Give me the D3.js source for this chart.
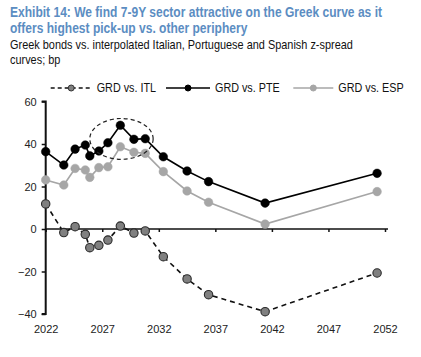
<!DOCTYPE html>
<html><head><meta charset="utf-8">
<script src="https://cdn.jsdelivr.net/npm/d3@7"></script>
<style>
html,body{margin:0;padding:0;background:#fff;}
svg{display:block;font-family:Arial,"Liberation Sans",sans-serif;}
</style></head>
<body>
<svg id="chart" width="421" height="357"></svg>
<script>
const years = [2022.0, 2023.6, 2024.6, 2025.5, 2025.9, 2026.7, 2027.5, 2028.6, 2029.8, 2030.8, 2032.4, 2034.5, 2036.4, 2041.4, 2051.3];
const itl = [11.8, -1.7, 1.1, -2.5, -8.8, -7.7, -5.2, 1.4, -1.9, -0.9, -13, -23.5, -30.9, -38.9, -20.7];
const pte = [36.4, 30.1, 37.6, 39.5, 34.4, 36.7, 40.6, 48.8, 42.2, 42.5, 34, 27.3, 22.3, 12.2, 26.2];
const esp = [23.1, 20.7, 28.5, 27.8, 24.3, 28.9, 29.3, 38.7, 36.1, 35.6, 27, 17.9, 12.6, 2.3, 17.6];
const seriesNames = ["GRD vs. ITL", "GRD vs. PTE", "GRD vs. ESP"];
const xTicks = [2022, 2027, 2032, 2037, 2042, 2047, 2052];
const yTicks = [-40, -20, 0, 20, 40, 60];
const titleLines = ["Exhibit 14: We find 7-9Y sector attractive on the Greek curve as it", "offers highest pick-up vs. other periphery"];
const subtitleLines = ["Greek bonds vs. interpolated Italian, Portuguese and Spanish z-spread", "curves; bp"];
const highlight = {x: 2028.7, y: 42.4, rx: 2.8, ry: 9.6};

const svg = d3.select("#chart");
const x = d3.scaleLinear().domain([2022, 2052]).range([45.7, 385]);
const y = d3.scaleLinear().domain([-40, 60]).range([314, 101.5]);

// text placed at (px,py) squeezed horizontally by factor sx
function squeezedText(sel, px, py, sx, str, attrs) {
  const t = sel.append("text").attr("transform", `translate(${px},${py}) scale(${sx},1)`).text(str);
  Object.entries(attrs).forEach(([k, v]) => t.attr(k, v));
  return t;
}

// Titles
const sxT = 0.86;
titleLines.forEach((t, i) => {
  squeezedText(svg, 10, 17 + i * 15.5, sxT, t, {"font-size": 14, "font-weight": "bold", fill: "#5b8dc2"});
});
const sxS = 0.91;
subtitleLines.forEach((t, i) => {
  squeezedText(svg, 10, 49 + i * 15, sxS, t, {"font-size": 12, fill: "#111"});
});

// Legend
const legY = 88;
const leg = svg.append("g");
const legItems = [
  {x1: 50.7, x2: 91.7, tx: 96.7, dash: "4,3", stroke: "#111", fill: "#808080", mstroke: "#333"},
  {x1: 166, x2: 210, tx: 215, dash: null, stroke: "#000", fill: "#000", mstroke: "#000"},
  {x1: 293.3, x2: 333.3, tx: 338.3, dash: null, stroke: "#a6a6a6", fill: "#a6a6a6", mstroke: "#a6a6a6"}
];
legItems.forEach((d, i) => {
  leg.append("line").attr("x1", d.x1).attr("x2", d.x2).attr("y1", legY).attr("y2", legY)
    .attr("stroke", d.stroke).attr("stroke-width", 1.5).attr("stroke-dasharray", d.dash);
  leg.append("circle").attr("cx", (d.x1 + d.x2) / 2).attr("cy", legY).attr("r", 3)
    .attr("fill", d.fill).attr("stroke", d.mstroke).attr("stroke-width", 1);
  squeezedText(leg, d.tx, legY + 4, 0.9, seriesNames[i], {"font-size": 12, fill: "#111"});
});

// Axes
const yAxis = d3.axisLeft(y).tickValues(yTicks).tickSize(4).tickPadding(5).tickFormat(d3.format("d"));
const gy = svg.append("g").attr("transform", `translate(${x(2022)},0)`).call(yAxis);
gy.select(".domain").attr("stroke", "#111").attr("stroke-width", 2).attr("d", `M-4,${y(60)}H0V${y(-40)}H-4`);
gy.selectAll(".tick line").attr("stroke", "#111").attr("stroke-width", 1.5);
gy.selectAll(".tick text").attr("font-size", 11).attr("fill", "#222").attr("font-family", "Arial, Liberation Sans, sans-serif");

const xAxis = d3.axisBottom(x).tickValues(xTicks).tickSize(3).tickFormat(d3.format("d"));
const gx = svg.append("g").attr("transform", `translate(0,${y(0)})`).call(xAxis);
gx.select(".domain").attr("stroke", "#111").attr("stroke-width", 1.5).attr("d", `M${x(2022)},0H${x(2052) + 3}`);
gx.selectAll(".tick line").attr("stroke", "#111").attr("stroke-width", 1.5);
gx.selectAll(".tick text").attr("font-size", 11).attr("fill", "#222")
  .attr("font-family", "Arial, Liberation Sans, sans-serif")
  .attr("transform", `translate(0,${333 - y(0) - 14})`);

// Series
const line = d3.line().x(d => x(d[0])).y(d => y(d[1]));
function drawSeries(vals, opts) {
  const data = years.map((yr, i) => [yr, vals[i]]);
  svg.append("path").datum(data).attr("d", line).attr("fill", "none")
    .attr("stroke", opts.stroke).attr("stroke-width", 1.6).attr("stroke-dasharray", opts.dash);
  svg.append("g").selectAll("circle").data(data).join("circle")
    .attr("cx", d => x(d[0])).attr("cy", d => y(d[1])).attr("r", opts.r)
    .attr("fill", opts.fill).attr("stroke", opts.mstroke).attr("stroke-width", opts.sw);
}
drawSeries(esp, {stroke: "#a6a6a6", fill: "#a6a6a6", mstroke: "#a6a6a6", r: 4.3, sw: 0.5});
drawSeries(pte, {stroke: "#000", fill: "#000", mstroke: "#000", r: 4.3, sw: 0.5});
drawSeries(itl, {stroke: "#111", fill: "#808080", mstroke: "#2a2a2a", r: 4.2, sw: 1.1, dash: "5,4"});

// Highlight ellipse
svg.append("ellipse")
  .attr("cx", x(highlight.x)).attr("cy", y(highlight.y))
  .attr("rx", x(highlight.x + highlight.rx) - x(highlight.x))
  .attr("ry", y(highlight.y) - y(highlight.y + highlight.ry))
  .attr("fill", "none").attr("stroke", "#222").attr("stroke-width", 1.2).attr("stroke-dasharray", "4,3");
</script>
</body></html>
